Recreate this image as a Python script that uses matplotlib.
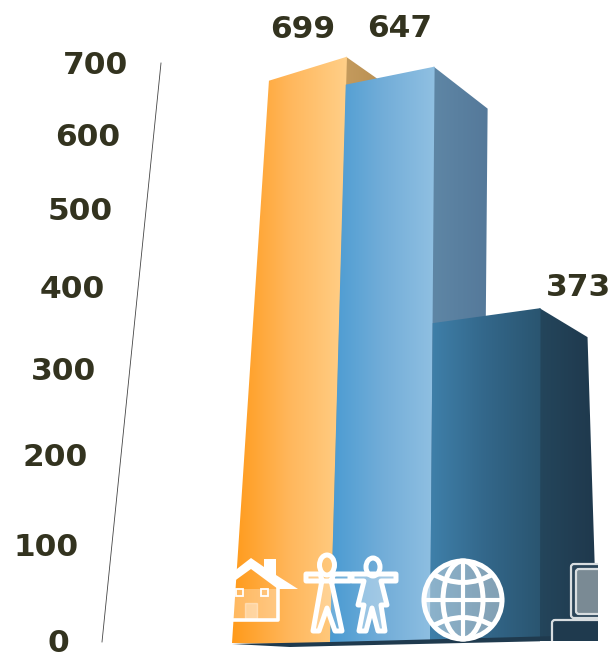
import numpy as np
import matplotlib
matplotlib.use('Agg')
import matplotlib.pyplot as plt
from matplotlib.colors import LinearSegmentedColormap
from matplotlib.patches import Polygon, Ellipse, Circle, FancyBboxPatch, Rectangle, PathPatch
from matplotlib.path import Path

# chart values
values = [699, 647, 373]
tick_values = [0, 100, 200, 300, 400, 500, 600, 700]
tick_labels = ['0', '100', '200', '300', '400', '500', '600', '700']

# perspective scale (value -> pixel row)
tick_rows = [643, 548, 458, 372, 290, 211, 137, 66]

front_colors = [['#ff9a1a', '#ffb75c', '#ffcf88'],
                ['#4a9bd2', '#72add8', '#90c0e2'],
                ['#3f80aa', '#33678a', '#2a5570']]
side_colors = [['#c9a062', '#b98f52'],
               ['#5f87a6', '#55799a'],
               ['#24465c', '#1f384c']]
# lanes: x at base and x at value 700
lanes = [(232, 269), (330, 347), (430, 435), (540, 541)]
top_shift = [(14, -10), (-19, -37), (11, -4)]
side_shift = [(36, 26), (53, 42), (47, 29)]
label_x = [303, 400, 579]
label_y_shift = [-37, -75, -25]

ink = '#33331f'


def row(v):
    return np.interp(v, tick_values, tick_rows)


def lane_x(i, v):
    a, b = lanes[i]
    return a + (b - a) * v / 700


def axis_x(r):
    return np.interp(r, [63, 642], [161, 102])


def gradient_poly(ax, pts, colors, zorder):
    pts = np.array(pts, dtype=float)
    cmap = LinearSegmentedColormap.from_list('g', colors)
    x0, x1 = pts[:, 0].min(), pts[:, 0].max()
    y0, y1 = pts[:, 1].min(), pts[:, 1].max()
    im = ax.imshow(np.linspace(0, 1, 256).reshape(1, -1), cmap=cmap, aspect='auto',
                   extent=(x0, x1, y1, y0), zorder=zorder)
    im.set_clip_path(Polygon(pts, transform=ax.transData))


fig = plt.figure(figsize=(6.16, 6.55), dpi=100)
ax = fig.add_axes([0, 0, 1, 1])

for i, v in enumerate(values):
    z = 2 + i * 2
    tl = (lane_x(i, v), row(v) + top_shift[i][0])
    tr = (lane_x(i + 1, v), row(v) + top_shift[i][1])
    bl = (lanes[i][0], 643 - i)
    br = (lanes[i + 1][0], 645 - i * 2)
    dx, dy = side_shift[i]
    side = [(tr[0] - 1, tr[1]), (tr[0] + dx, tr[1] + dy), (br[0] + dx + (10 if i == 2 else 0), br[1] - 3), (br[0] - 1, br[1])]
    gradient_poly(ax, side, side_colors[i], z)
    gradient_poly(ax, [tl, tr, br, bl], front_colors[i], z + 1)
    ax.text(label_x[i], row(v) + label_y_shift[i], str(v), fontsize=22.5, fontweight='bold',
            color=ink, ha='center', va='center', zorder=20, clip_on=False)

# dark floor strip under the blue bars
ax.add_patch(Polygon([(232, 644), (330, 642), (597, 635), (597, 640), (330, 646), (290, 647)],
                     fc='#1f3a4e', ec='none', zorder=9))

# axis line and tick labels
ax.plot([102, 161], [642, 63], color='#444444', lw=0.6, zorder=1)
for v, lab in zip(tick_values, tick_labels):
    r = row(v)
    ax.text(axis_x(r) - 33, r, lab, fontsize=22.5, fontweight='bold', color=ink,
            ha='right', va='center', zorder=20)

w = dict(fc='none', ec='white', zorder=12, lw=3.6, joinstyle='round', capstyle='round')

# house
ax.add_patch(Polygon([(233, 620), (278, 620), (278, 589), (233, 589)], fc='white', alpha=0.3, ec='none', zorder=11))
ax.add_patch(Polygon([(233, 572), (251, 558), (264, 567), (264, 559), (276, 559), (276, 575),
                      (298, 589), (278, 589), (251, 569), (233, 582)], fc='white', ec='none', zorder=12))
ax.plot([233, 278, 278], [620, 620, 589], color='white', lw=2.6, zorder=12)
ax.add_patch(Rectangle((236, 589), 7, 7, fc='none', ec='white', lw=1.3, zorder=12))
ax.add_patch(Rectangle((261, 589), 7, 7, fc='none', ec='white', lw=1.3, zorder=12))
ax.add_patch(Rectangle((245, 603), 12, 16, fc='white', alpha=0.35, ec='white', lw=1.0, zorder=12))

# people
man = [(306, 574), (320, 574), (322, 580), (313, 631), (319, 631), (327, 608), (335, 631),
       (342, 631), (331, 580), (334, 574), (350, 574), (350, 581), (334, 581), (320, 581), (306, 581)]
woman = [(352, 574), (396, 574), (396, 581), (381, 581), (387, 605), (381, 605), (385, 631), (378, 631),
         (372, 608), (366, 631), (359, 631), (364, 605), (358, 605), (364, 581), (352, 581)]
ax.add_patch(Polygon(man, fc='white', alpha=0.2, ec='none', zorder=11))
ax.add_patch(Polygon(man, **w))
ax.add_patch(Polygon(woman, fc='white', alpha=0.35, ec='none', zorder=11))
ax.add_patch(Polygon(woman, **w))
ax.add_patch(Ellipse((327, 565), 15, 20, **w))
ax.add_patch(Ellipse((373, 567), 14, 18, **w))

# globe
gx, gy, gr = 463, 600, 39
ax.add_patch(Circle((gx, gy), gr, fc='white', alpha=0.4, ec='none', zorder=11))
ax.add_patch(Circle((gx, gy), gr, **w))
ax.add_patch(Ellipse((gx, gy), 40, 2 * gr, **w))
ax.plot([gx, gx], [gy - gr, gy + gr], color='white', lw=3, zorder=12)
ax.plot([gx - gr, gx + gr], [gy, gy], color='white', lw=3, zorder=12)
ring_top = Path([(gx - 32, gy - 27), (gx, gy - 8), (gx + 32, gy - 27)], [Path.MOVETO, Path.CURVE3, Path.CURVE3])
ring_bot = Path([(gx - 32, gy + 27), (gx, gy + 8), (gx + 32, gy + 27)], [Path.MOVETO, Path.CURVE3, Path.CURVE3])
for ring in (ring_top, ring_bot):
    p = ax.add_patch(PathPatch(ring, **w))
    p.set_clip_path(Circle((gx, gy), gr, transform=ax.transData))

# monitor, cut off by the crop of the picture
ax.add_patch(FancyBboxPatch((571, 564), 42, 54, boxstyle='round,pad=0,rounding_size=3',
                            fc='#2a4458', ec='#d8dde0', lw=1.6, zorder=12))
ax.add_patch(FancyBboxPatch((576, 569), 40, 45, boxstyle='round,pad=0,rounding_size=3',
                            fc='#7a8a94', ec='#d8dde0', lw=1.6, zorder=12))
ax.add_patch(FancyBboxPatch((552, 620), 60, 30, boxstyle='round,pad=0,rounding_size=3',
                            fc='#1f3a4e', ec='#d8dde0', lw=1.6, zorder=12))
ax.add_patch(Rectangle((598, 555), 18, 100, fc='white', ec='none', zorder=13))
ax.add_patch(Rectangle((540, 641), 76, 14, fc='white', ec='none', zorder=13))

ax.set_xlim(0, 616)
ax.set_ylim(655, 0)
ax.axis('off')
fig.savefig('out.png', dpi=100)
